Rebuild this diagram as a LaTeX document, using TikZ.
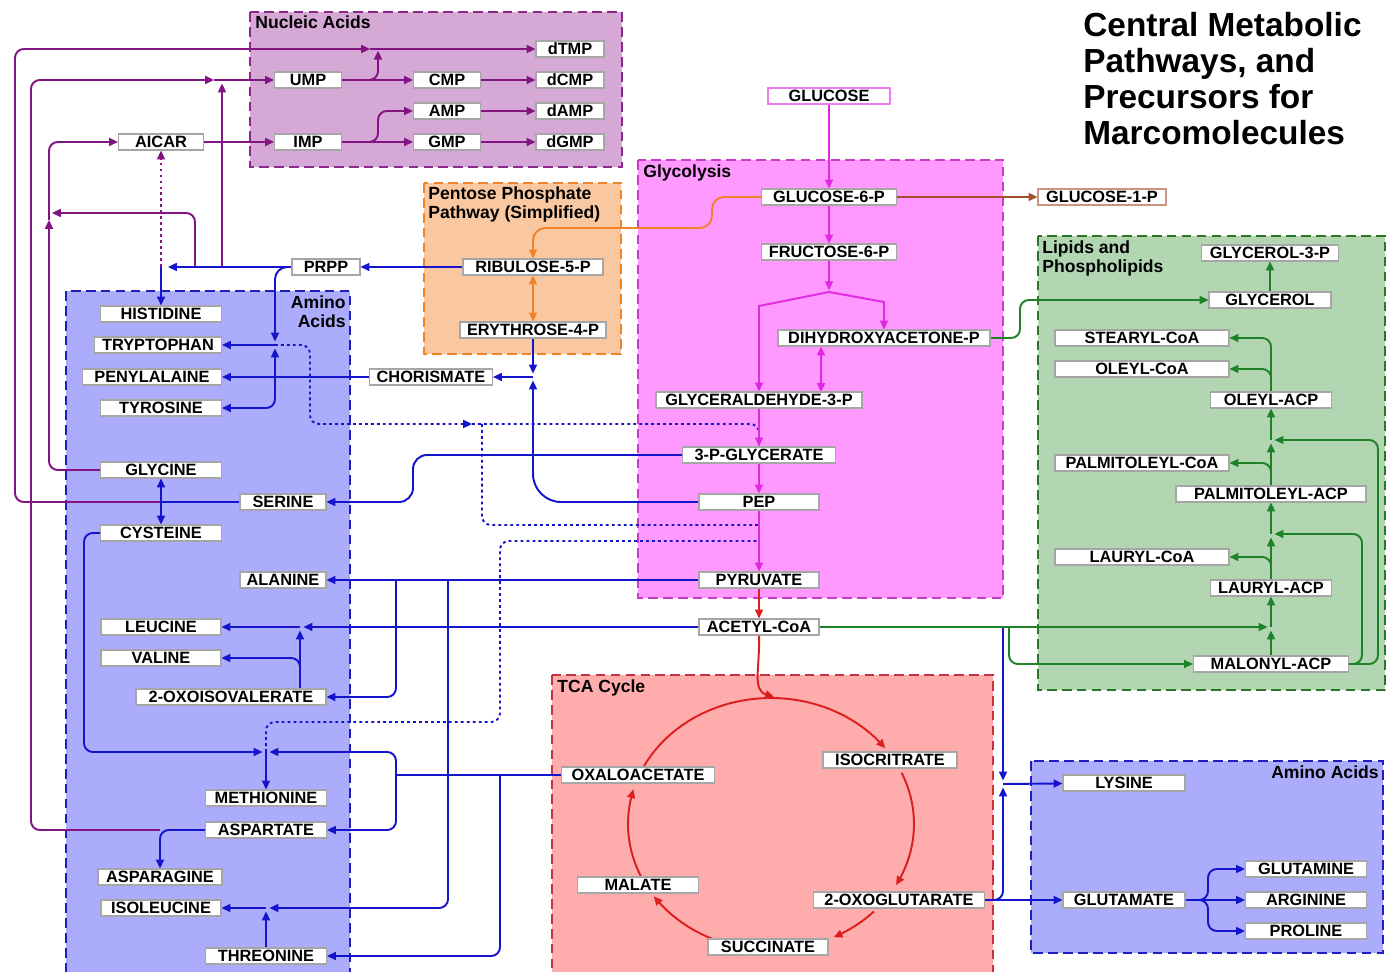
\documentclass[tikz,border=0pt]{standalone}
\usepackage{fontspec}
\setmainfont{Liberation Sans}
\usetikzlibrary{arrows.meta,positioning}
\pgfdeclarelayer{boxes}
\pgfdeclarelayer{links}
\pgfsetlayers{boxes,links,main}
\definecolor{nucfill}{RGB}{214,168,214}
\definecolor{nucline}{RGB}{140,40,140}
\definecolor{glyfill}{RGB}{255,153,255}
\definecolor{glyline}{RGB}{200,60,200}
\definecolor{ppfill}{RGB}{250,200,160}
\definecolor{ppline}{RGB}{240,130,40}
\definecolor{aafill}{RGB}{172,172,252}
\definecolor{aaline}{RGB}{30,30,190}
\definecolor{tcafill}{RGB}{255,172,172}
\definecolor{tcaline}{RGB}{200,50,60}
\definecolor{lipfill}{RGB}{178,214,178}
\definecolor{lipline}{RGB}{40,120,40}
\definecolor{cpurp}{RGB}{130,20,130}
\definecolor{cblue}{RGB}{20,20,205}
\definecolor{cgreen}{RGB}{30,130,40}
\definecolor{cmag}{RGB}{225,40,225}
\definecolor{corange}{RGB}{240,130,40}
\definecolor{cred}{RGB}{220,30,30}
\definecolor{cbrown}{RGB}{165,80,45}
\tikzset{
  mol/.style={rectangle,draw=#1,fill=white,line width=0.6pt,
              minimum height=0.32cm,inner sep=0pt,text=black,
              font=\fontsize{9.3}{10}\selectfont\bfseries},
  mol/.default=gray!70,
  wd/.style={minimum width=#1*0.02cm},
  grp/.style={draw=#1,line width=1.1pt,dash pattern=on 5.5pt off 3pt},
  grplbl/.style={font=\fontsize{10}{11}\selectfont\bfseries,inner sep=0pt},
  arr/.style={-{Triangle[length=5pt,width=4.5pt]},line width=1.1pt,
              draw=#1,rounded corners=5pt},
  arr/.default=cblue,
  dbl/.style={{Triangle[length=5pt,width=4.5pt]}-{Triangle[length=5pt,width=4.5pt]}},
  lnk/.style={line width=1.1pt,draw=#1,rounded corners=5pt},
  dotl/.style={lnk=#1,dash pattern=on 1.6pt off 1.8pt},
  dotarr/.style={arr=#1,dash pattern=on 1.6pt off 1.8pt},
}
\begin{document}
\begin{tikzpicture}[x=0.02cm,y=-0.02cm]
  \useasboundingbox (0,0) rectangle (1387,972);
  % group boxes
  \begin{pgfonlayer}{boxes}
    \draw[grp=nucline,fill=nucfill] (250,12) rectangle (622,167);
    \draw[grp=glyline,fill=glyfill] (638,160) rectangle (1003,598);
    \draw[grp=ppline,fill=ppfill] (424,183) rectangle (621,354);
    \draw[grp=aaline,fill=aafill] (66,291) rectangle (350,985);
    \draw[grp=tcaline,fill=tcafill] (552,675) rectangle (993,985);
    \draw[grp=lipline,fill=lipfill] (1038,236) rectangle (1385,690);
    \draw[grp=aaline,fill=aafill] (1031,761) rectangle (1383,953);
  \end{pgfonlayer}
  \node[grplbl,anchor=north west] (lblnuc) at (255,15) {Nucleic Acids};
  \node[grplbl,anchor=north west] (lblgly) at (643,164) {Glycolysis};
  \node[grplbl,anchor=north west,align=left] (lblpp) at (428,186)
    {Pentose Phosphate\\Pathway (Simplified)};
  \node[grplbl,anchor=north east,align=right] (lblaa) at (346,295) {Amino\\Acids};
  \node[grplbl,anchor=north west] (lbltca) at (557,679) {TCA Cycle};
  \node[grplbl,anchor=north west,align=left] (lbllip) at (1042,240)
    {Lipids and\\Phospholipids};
  \node[grplbl,anchor=north east] (lblaa2) at (1379,765) {Amino Acids};
  \node[anchor=north west,align=left,inner sep=0pt,
        font=\fontsize{19}{20.5}\selectfont\bfseries] (title) at (1083,12)
    {Central Metabolic\\Pathways, and\\Precursors for\\Marcomolecules};
  % nucleic acids
  \node[mol,wd=68] (dtmp) at (570,49) {dTMP};
  \node[mol,wd=67] (ump) at (308,80) {UMP};
  \node[mol,wd=67] (cmp) at (447,80) {CMP};
  \node[mol,wd=68] (dcmp) at (570,80) {dCMP};
  \node[mol,wd=67] (amp) at (447,111) {AMP};
  \node[mol,wd=68] (damp) at (570,111) {dAMP};
  \node[mol,wd=67] (imp) at (308,142) {IMP};
  \node[mol,wd=67] (gmp) at (447,142) {GMP};
  \node[mol,wd=68] (dgmp) at (570,142) {dGMP};
  \node[mol,wd=85] (aicar) at (161,142) {AICAR};
  % glycolysis
  \node[mol=cmag!60,wd=122] (glc) at (829,96) {GLUCOSE};
  \node[mol,wd=135] (g6p) at (829,197) {GLUCOSE-6-P};
  \node[mol=cbrown!60,wd=128] (g1p) at (1102,197) {GLUCOSE-1-P};
  \node[mol,wd=135] (f6p) at (829,252) {FRUCTOSE-6-P};
  \node[mol,wd=212] (dhap) at (884,338) {DIHYDROXYACETONE-P};
  \node[mol,wd=206] (gap) at (759,400) {GLYCERALDEHYDE-3-P};
  \node[mol,wd=153] (pg3) at (759,455) {3-P-GLYCERATE};
  \node[mol,wd=120] (pep) at (759,502) {PEP};
  \node[mol,wd=120] (pyr) at (759,580) {PYRUVATE};
  \node[mol,wd=120] (acoa) at (759,627) {ACETYL-CoA};
  % pentose phosphate
  \node[mol,wd=140] (rib) at (533,267) {RIBULOSE-5-P};
  \node[mol,wd=146] (ery) at (533,330) {ERYTHROSE-4-P};
  \node[mol,wd=68] (prpp) at (326,267) {PRPP};
  \node[mol,wd=123] (cho) at (431,377) {CHORISMATE};
  % amino acids
  \node[mol,wd=121] (his) at (161,314) {HISTIDINE};
  \node[mol,wd=127] (trp) at (158,345) {TRYPTOPHAN};
  \node[mol,wd=139] (phe) at (152,377) {PENYLALAINE};
  \node[mol,wd=121] (tyr) at (161,408) {TYROSINE};
  \node[mol,wd=121] (gly) at (161,470) {GLYCINE};
  \node[mol,wd=86] (ser) at (283,502) {SERINE};
  \node[mol,wd=121] (cys) at (161,533) {CYSTEINE};
  \node[mol,wd=86] (ala) at (283,580) {ALANINE};
  \node[mol,wd=120] (leu) at (161,627) {LEUCINE};
  \node[mol,wd=120] (val) at (161,658) {VALINE};
  \node[mol,wd=190] (oxv) at (231,697) {2-OXOISOVALERATE};
  \node[mol,wd=121] (met) at (266,798) {METHIONINE};
  \node[mol,wd=121] (asp) at (266,830) {ASPARTATE};
  \node[mol,wd=124] (asn) at (160,877) {ASPARAGINE};
  \node[mol,wd=120] (ile) at (161,908) {ISOLEUCINE};
  \node[mol,wd=121] (thr) at (266,956) {THREONINE};
  % tca cycle
  \node[mol,wd=153] (oxa) at (638,775) {OXALOACETATE};
  \node[mol,wd=134] (iso) at (890,760) {ISOCRITRATE};
  \node[mol,wd=121] (mal) at (638,885) {MALATE};
  \node[mol,wd=171] (oxg) at (899,900) {2-OXOGLUTARATE};
  \node[mol,wd=120] (suc) at (768,947) {SUCCINATE};
  % lipids
  \node[mol,wd=137] (g3pl) at (1270,253) {GLYCEROL-3-P};
  \node[mol,wd=122] (glyc) at (1270,300) {GLYCEROL};
  \node[mol,wd=174] (scoa) at (1142,338) {STEARYL-CoA};
  \node[mol,wd=174] (ocoa) at (1142,369) {OLEYL-CoA};
  \node[mol,wd=121] (oacp) at (1271,400) {OLEYL-ACP};
  \node[mol,wd=174] (pcoa) at (1142,463) {PALMITOLEYL-CoA};
  \node[mol,wd=190] (pacp) at (1271,494) {PALMITOLEYL-ACP};
  \node[mol,wd=174] (lcoa) at (1142,557) {LAURYL-CoA};
  \node[mol,wd=121] (lacp) at (1271,588) {LAURYL-ACP};
  \node[mol,wd=155] (macp) at (1271,664) {MALONYL-ACP};
  % amino acids, right
  \node[mol,wd=122] (lys) at (1124,783) {LYSINE};
  \node[mol,wd=122] (glu) at (1124,900) {GLUTAMATE};
  \node[mol,wd=121] (gln) at (1306,869) {GLUTAMINE};
  \node[mol,wd=121] (arg) at (1306,900) {ARGININE};
  \node[mol,wd=121] (pro) at (1306,931) {PROLINE};
  % junctions
  \coordinate (jT) at (378,49);
  \coordinate (aT) at (370,49);
  \coordinate (aU) at (214,80);
  \coordinate (jUP) at (222,80);
  \coordinate (jP1) at (222,267);
  \coordinate (jP2) at (195,267);
  \coordinate (jHis) at (161,267);
  \coordinate (aH) at (168,267);
  \coordinate (aG) at (49,220);
  \coordinate (aG2) at (52,213);
  \coordinate (jser) at (161,502);
  \coordinate (jasp) at (160,830);
  \coordinate (jTrp) at (275,345);
  \coordinate (jPhe) at (275,377);
  \coordinate (jCho) at (533,377);
  \coordinate (aD) at (472,424);
  \coordinate (jD) at (482,424);
  \coordinate (jPy1) at (759,525);
  \coordinate (jPy2) at (759,541);
  \coordinate (jV) at (396,580);
  \coordinate (jI) at (448,580);
  \coordinate (jIle) at (266,908);
  \coordinate (jLeu) at (300,627);
  \coordinate (jVal) at (300,672);
  \coordinate (jOxa) at (396,775);
  \coordinate (jThr) at (500,775);
  \coordinate (jMet) at (266,752);
  \coordinate (jAc) at (1003,627);
  \coordinate (jAc2) at (1009,627);
  \coordinate (jLys) at (1003,784);
  \coordinate (jF) at (829,292);
  \coordinate (jDG) at (821,392);
  \coordinate (jL1) at (1271,627);
  \coordinate (jL2) at (1271,534);
  \coordinate (jL3) at (1271,440);
  \coordinate (jLC) at (1271,566);
  \coordinate (jPC) at (1271,473);
  \coordinate (jOC) at (1271,378);
  \coordinate (tcatop) at (774,697);
  \begin{pgfonlayer}{links}
    % nucleic acids
    \draw[arr=cpurp] (ump) -- (cmp);
    \draw[arr=cpurp] (cmp) -- (dcmp);
    \draw[arr=cpurp] (amp) -- (damp);
    \draw[arr=cpurp] (imp) -- (gmp);
    \draw[arr=cpurp] (gmp) -- (dgmp);
    \draw[arr=cpurp] (aicar) -- (imp);
    \draw[arr=cpurp,shorten >=1pt] (ump.east) -| (jT);
    \draw[arr=cpurp] (imp.east) -- ++(36,0) |- (amp.west);
    \draw[arr=cpurp] (jser) -| (15,49) -- (aT);
    \draw[arr=cpurp] (aT) -- (dtmp);
    \draw[arr=cpurp] (jasp) -| (31,80) -- (aU);
    \draw[arr=cpurp] (aU) -- (ump);
    \draw[arr=cpurp,shorten >=2pt] (jP1) -- (jUP);
    \draw[arr=cpurp] (gly.west) -| (aG);
    \draw[arr=cpurp] (aG) |- (aicar.west);
    \draw[arr=cpurp] (jP2) |- (aG2);
    \draw[dotarr=cpurp] (jHis) -- (aicar.south);
    % amino acid branches
    \draw[arr] (rib) -- (prpp);
    \draw[arr] (prpp.west) -- (aH);
    \draw[arr] (jHis) -- (his);
    \draw[arr,rounded corners=7pt,shorten >=2pt] (prpp.west) -| (jTrp);
    \draw[arr] (cho) -- (phe);
    \draw[arr,shorten >=2pt] (jPhe) -- (jTrp);
    \draw[arr] (jTrp) -- (trp.east);
    \draw[arr] (jPhe) |- (tyr.east);
    \draw[arr,shorten >=2pt] (ery) -- (jCho);
    \draw[arr,rounded corners=16pt,shorten >=2pt] (pep.west) -| (jCho);
    \draw[arr] (jCho) -- (cho);
    \draw[arr,rounded corners=8pt] (pg3.west) -- (413,455) |- (ser.east);
    \draw[lnk=cblue] (ser) -- (jser);
    \draw[arr] (jser) -- (gly);
    \draw[arr] (jser) -- (cys);
    \draw[arr] (pyr) -- (ala);
    \draw[arr] (jV) |- (oxv.east);
    \draw[arr,shorten >=2pt] (jI) |- (jIle);
    \draw[arr] (jIle) -- (ile);
    \draw[arr,shorten >=2pt] (thr) -- (jIle);
    \draw[arr,shorten >=2pt] (acoa) -- (jLeu);
    \draw[arr] (jLeu) -- (leu);
    \draw[arr,shorten >=2pt] (oxv.north -| jLeu) -- (jLeu);
    \draw[arr] (jVal) |- (val.east);
    \draw[lnk=cblue] (oxa) -- (jOxa);
    \draw[arr] (jOxa) |- (asp.east);
    \draw[arr,shorten >=2pt] (jOxa) |- (jMet);
    \draw[arr,shorten >=2pt] (cys.west) -| (84,752) -- (jMet);
    \draw[arr] (jMet) -- (met);
    \draw[arr] (jThr) |- (thr.east);
    \draw[arr] (asp.west) -| (asn.north);
    % dotted side routes
    \draw[dotarr=cblue] (jTrp) -| (310,424) -- (aD);
    \draw[dotl=cblue] (aD) -| (pg3.north);
    \draw[dotl=cblue] (jD) |- (jPy1);
    \draw[dotl=cblue] (jMet) -- (266,722) -| (500,541) -- (jPy2);
    % glutamate family
    \draw[arr] (oxg) -- (glu);
    \draw[arr,shorten >=2pt] (oxg.east) -| (jLys);
    \draw[arr,shorten >=2pt] (jAc) -- (jLys);
    \draw[arr] (jLys) -- (lys);
    \draw[arr] (glu.east) -- (1208,900) |- (gln.west);
    \draw[arr] (glu) -- (arg);
    \draw[arr] (glu.east) -- (1208,900) |- (pro.west);
    % lipids
    \draw[arr=cgreen,shorten >=2pt] (acoa) -- (jL1);
    \draw[arr=cgreen] (jAc2) |- (macp.west);
    \draw[arr=cgreen] (dhap.east) -- (1020,338) |- (glyc.west);
    \draw[arr=cgreen] (glyc) -- (g3pl);
    \draw[arr=cgreen,shorten >=2pt] (macp) -- (jL1);
    \draw[arr=cgreen] (jL1) -- (lacp);
    \draw[arr=cgreen,shorten >=2pt] (lacp) -- (jL2);
    \draw[arr=cgreen] (jL2) -- (pacp);
    \draw[arr=cgreen,shorten >=2pt] (pacp) -- (jL3);
    \draw[arr=cgreen] (jL3) -- (oacp);
    \draw[arr=cgreen,shorten >=2pt] (macp.east) -| (1362,534) -- (jL2);
    \draw[arr=cgreen,shorten >=2pt] (macp.east) -| (1378,440) -- (jL3);
    \draw[arr=cgreen] (jLC) |- (lcoa.east);
    \draw[arr=cgreen] (jPC) |- (pcoa.east);
    \draw[arr=cgreen] (oacp) |- (scoa.east);
    \draw[arr=cgreen] (jOC) |- (ocoa.east);
    % glycolysis
    \draw[arr=cmag] (glc) -- (g6p);
    \draw[arr=cmag] (g6p) -- (f6p);
    \draw[arr=cmag,shorten >=1pt] (f6p) -- (jF);
    \draw[arr=cmag,sharp corners] (jF) -- (759,306) -- (gap.north);
    \draw[arr=cmag,sharp corners] (jF) -- (884,302) -- (dhap.north);
    \draw[arr=cmag,dbl] (dhap.south -| jDG) -- (jDG);
    \draw[arr=cmag] (gap) -- (pg3);
    \draw[arr=cmag] (pg3) -- (pep);
    \draw[arr=cmag] (pep) -- (pyr);
    \draw[arr=cbrown] (g6p) -- (g1p);
    \draw[arr=corange,rounded corners=7pt] (g6p.west) -- (712,197) -- (712,228) -| (rib.north);
    \draw[arr=corange,dbl] (rib) -- (ery);
    % tca cycle
    \draw[arr=cred] (pyr) -- (acoa);
    \draw[arr=cred] (acoa.south) .. controls (760,668) and (752,690) .. (tcatop);
    \draw[arr=cred,sharp corners] plot[domain=200:323,samples=40] ({771+143*cos(\x)},{824+126*sin(\x)});
    \draw[arr=cred,sharp corners] plot[domain=336:389,samples=20] ({771+143*cos(\x)},{824+126*sin(\x)});
    \draw[arr=cred,sharp corners] plot[domain=44:64,samples=10] ({771+143*cos(\x)},{824+126*sin(\x)});
    \draw[arr=cred,sharp corners] plot[domain=114:145,samples=12] ({771+143*cos(\x)},{824+126*sin(\x)});
    \draw[arr=cred,sharp corners] plot[domain=155:196,samples=16] ({771+143*cos(\x)},{824+126*sin(\x)});
  \end{pgfonlayer}
\end{tikzpicture}
\end{document}
